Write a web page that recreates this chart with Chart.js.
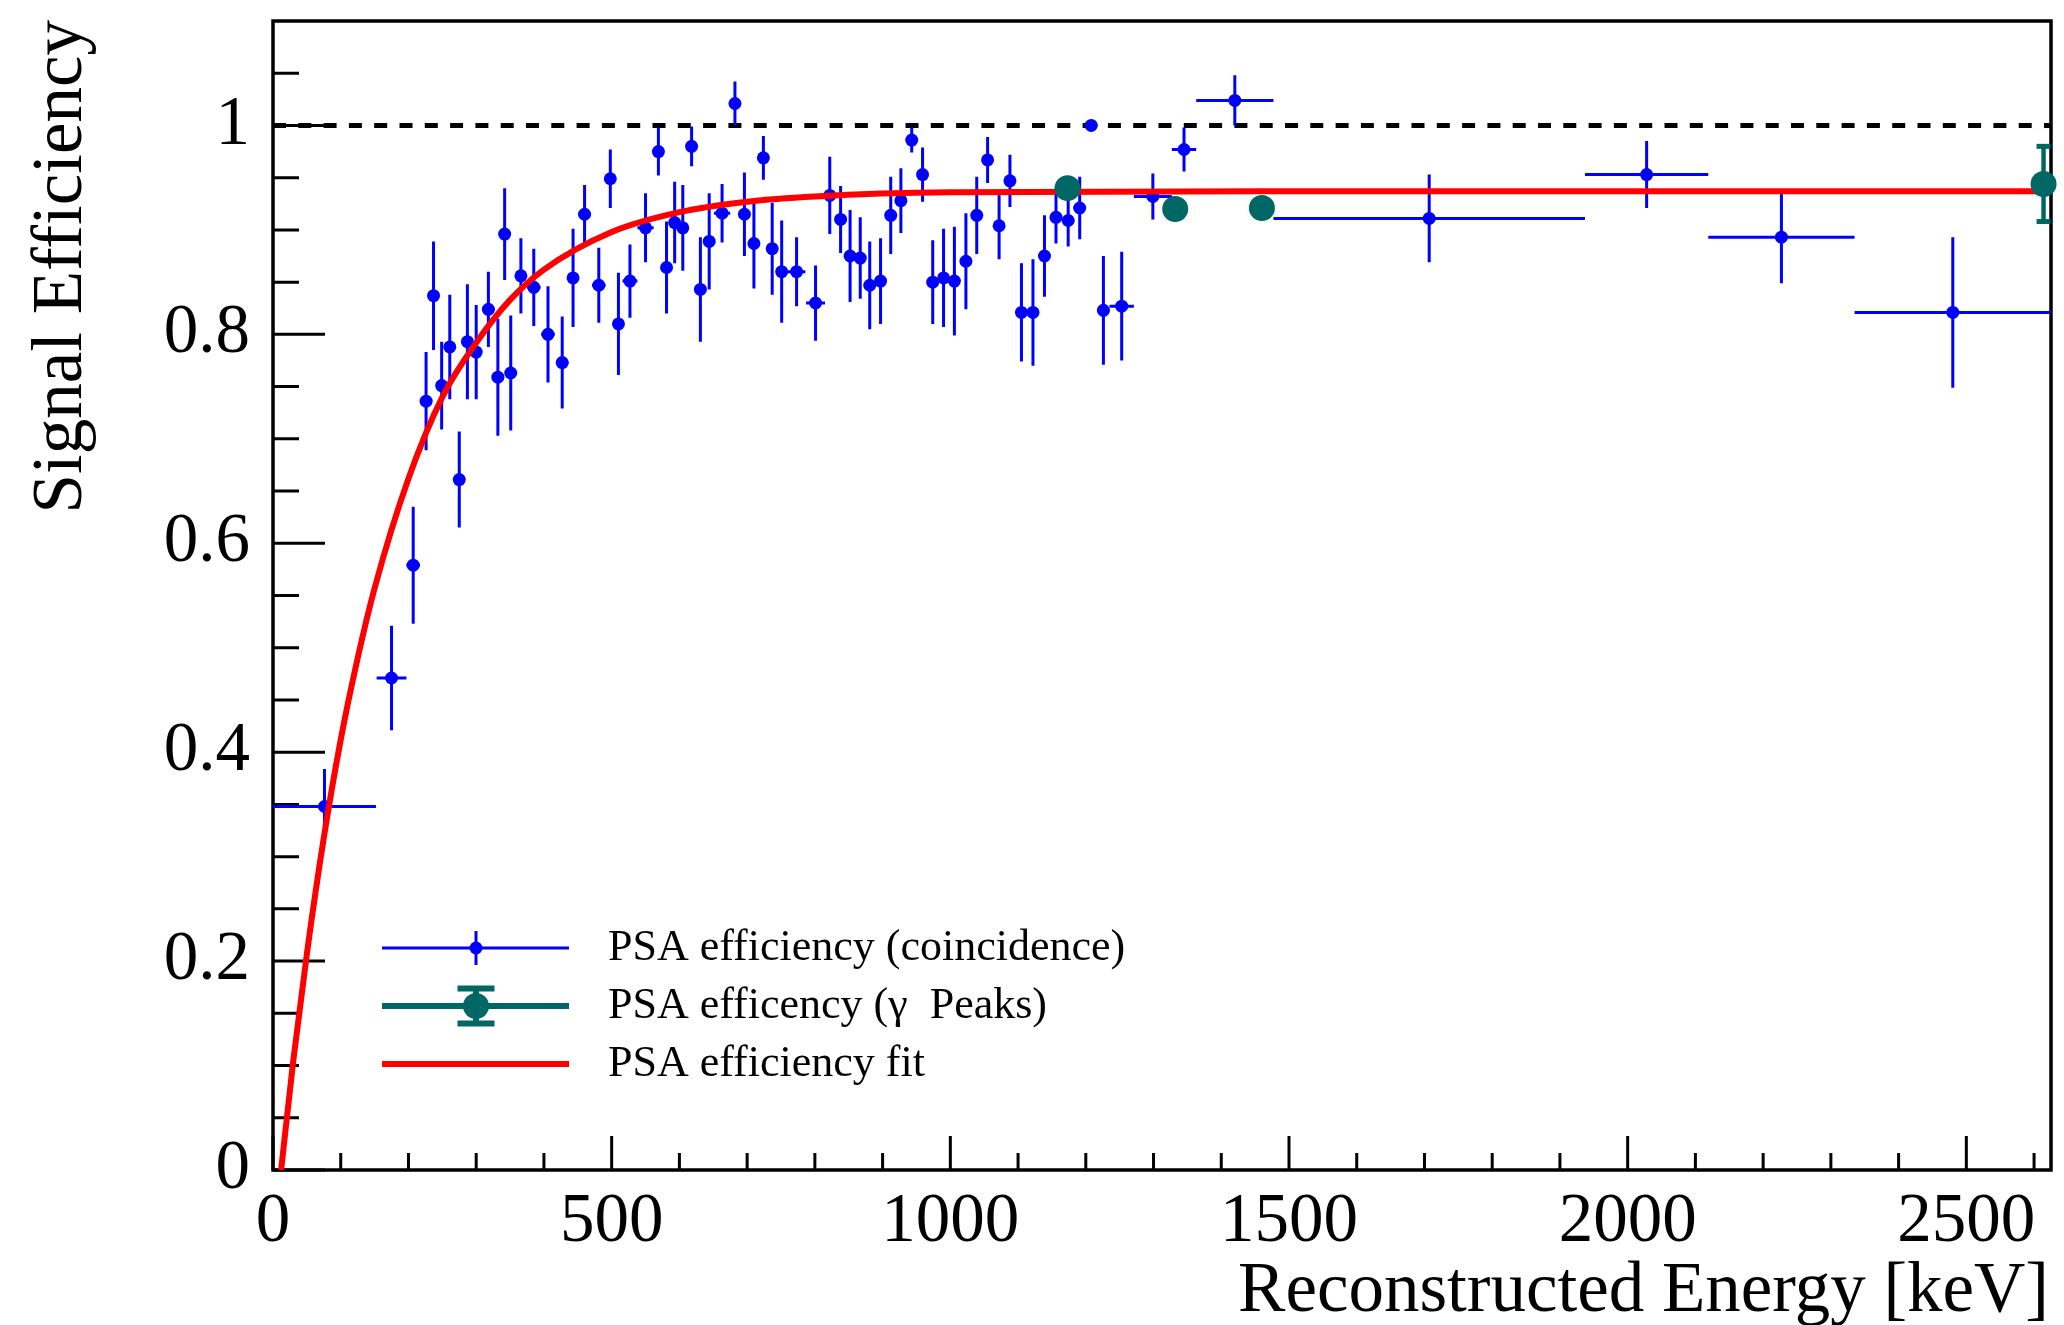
<!DOCTYPE html>
<html>
<head>
<meta charset="utf-8">
<title>PSA signal efficiency</title>
<script src="https://cdn.jsdelivr.net/npm/chart.js@4.4.1/dist/chart.umd.min.js"></script>
<style>
  html, body { margin: 0; padding: 0; background: #fff; }
  #wrap { width: 2064px; height: 1325px; }
</style>
</head>
<body>
<div id="wrap"><canvas id="effChart" width="2064" height="1325"></canvas></div>
<script>
// PSA efficiency from coincidence events: bin centre [keV], efficiency, errors
const coincEnergy = [76, 175, 207, 226, 237, 249, 261, 275, 287, 300,
  318, 332, 342, 351, 366, 385, 406, 427, 443, 460,
  481, 498, 510, 527, 550, 569, 581, 593, 605, 618,
  631, 644, 663, 682, 696, 710, 724, 737, 751, 773,
  801, 822, 838, 852, 867, 881, 897, 912, 927, 943,
  959, 974, 990, 1006, 1023, 1039, 1055, 1072, 1088, 1105,
  1122, 1139, 1156, 1174, 1191, 1208, 1226, 1253, 1299, 1345,
  1420, 1707, 2028, 2227, 2480];
const coincEff = [0.348, 0.471, 0.579, 0.736, 0.837, 0.751, 0.788, 0.661, 0.793, 0.783,
  0.824, 0.759, 0.896, 0.763, 0.856, 0.845, 0.800, 0.773, 0.854, 0.915,
  0.847, 0.949, 0.810, 0.851, 0.902, 0.975, 0.864, 0.907, 0.902, 0.980,
  0.843, 0.889, 0.916, 1.021, 0.915, 0.887, 0.969, 0.882, 0.860, 0.860,
  0.830, 0.933, 0.910, 0.875, 0.873, 0.847, 0.851, 0.914, 0.928, 0.986,
  0.953, 0.850, 0.854, 0.851, 0.870, 0.914, 0.967, 0.904, 0.947, 0.821,
  0.821, 0.875, 0.912, 0.909, 0.921, 1.000, 0.823, 0.827, 0.932, 0.977,
  1.024, 0.911, 0.953, 0.893, 0.821];
const coincEffErr = [0.036, 0.050, 0.056, 0.047, 0.052, 0.042, 0.050, 0.046, 0.055, 0.045,
  0.036, 0.056, 0.044, 0.055, 0.036, 0.037, 0.046, 0.044, 0.047, 0.028,
  0.036, 0.028, 0.049, 0.035, 0.033, 0.023, 0.044, 0.039, 0.041, 0.019,
  0.050, 0.046, 0.028, 0.021, 0.040, 0.043, 0.021, 0.044, 0.049, 0.033,
  0.036, 0.037, 0.032, 0.044, 0.039, 0.042, 0.041, 0.037, 0.031, 0.012,
  0.026, 0.040, 0.047, 0.052, 0.046, 0.037, 0.022, 0.032, 0.025, 0.047,
  0.051, 0.039, 0.025, 0.025, 0.030, 0.000, 0.052, 0.052, 0.022, 0.021,
  0.024, 0.042, 0.032, 0.044, 0.072];
const coincEnergyErr = [76, 22, 10, 9, 6, 6, 6, 7, 6, 7,
  9, 7, 5, 7, 8, 10, 10, 9, 8, 9,
  10, 8, 7, 11, 12, 8, 6, 6, 6, 6,
  6, 8, 12, 7, 7, 7, 7, 7, 8, 13,
  14, 8, 8, 7, 7, 8, 8, 8, 8, 8,
  8, 8, 8, 8, 8, 8, 8, 8, 8, 8,
  8, 8, 9, 9, 9, 9, 9, 18, 28, 18,
  57, 230, 91, 108, 145];

// PSA efficiency at the gamma lines
const peakEnergy = [1173, 1332, 1460, 2614];
const peakEff = [0.940, 0.920, 0.921, 0.944];
const peakEffErr = [0.008, 0.008, 0.008, 0.036];

// fitted efficiency curve
const fitEnergy = [12, 30, 50, 75, 100, 125, 150, 200, 250, 300, 350, 400, 500, 600, 700, 800, 1000, 1500, 2000, 2625];
const fitEff = [0.000, 0.105, 0.207, 0.318, 0.412, 0.490, 0.557, 0.662, 0.740, 0.792, 0.833, 0.862, 0.898, 0.917, 0.927, 0.932, 0.936, 0.937, 0.937, 0.937];

// unity reference line
const unityEnergy = [0, 2625];
const unityEff = [1, 1];

const xTickValues = [0, 500, 1000, 1500, 2000, 2500];
const xTickLabels = ['0', '500', '1000', '1500', '2000', '2500'];
const yTickValues = [0, 0.2, 0.4, 0.6, 0.8, 1];
const yTickLabels = ['0', '0.2', '0.4', '0.6', '0.8', '1'];

const SERIF = '"Liberation Serif", "Times New Roman", serif';
const BLUE = '#0000ff';
const TEAL = 'rgb(0, 103, 100)';
const RED = '#ff0000';

function pts(xs, ys) {
  return xs.map((x, i) => ({ x: x, y: ys[i] }));
}

// ROOT-like frame with ticks pointing inward
const frameTicks = {
  id: 'frameTicks',
  beforeDatasetsDraw(chart) {
    const { ctx, chartArea: a, scales: { x, y } } = chart;
    ctx.save();
    ctx.strokeStyle = '#000';
    ctx.lineWidth = 3;
    ctx.beginPath();
    for (let v = 0; v <= 2600; v += 100) {
      const px = x.getPixelForValue(v);
      const len = v % 500 === 0 ? 34 : 17;
      ctx.moveTo(px, a.bottom);
      ctx.lineTo(px, a.bottom - len);
    }
    for (let k = 0; k <= 21; k++) {
      const py = y.getPixelForValue(k * 0.05);
      const len = k % 4 === 0 ? 52 : 26;
      ctx.moveTo(a.left, py);
      ctx.lineTo(a.left + len, py);
    }
    ctx.stroke();
    ctx.lineWidth = 3.5;
    ctx.strokeRect(a.left, a.top, a.right - a.left, a.bottom - a.top);
    ctx.restore();
  }
};

// error bars drawn under each dataset's markers
const errorBars = {
  id: 'errorBars',
  beforeDatasetDraw(chart, args) {
    const ds = chart.data.datasets[args.index];
    if (!ds.errors) return;
    const { ctx, chartArea: a, scales: { x, y } } = chart;
    const e = ds.errors;
    ctx.save();
    ctx.strokeStyle = ds.backgroundColor;
    ctx.lineWidth = e.width;
    ds.data.forEach((p, i) => {
      const px = x.getPixelForValue(p.x);
      const py = y.getPixelForValue(p.y);
      const ey = e.y[i], ex = e.x ? e.x[i] : 0;
      ctx.beginPath();
      if (ey) {
        ctx.moveTo(px, y.getPixelForValue(p.y + ey));
        ctx.lineTo(px, y.getPixelForValue(p.y - ey));
      }
      if (ex) {
        ctx.moveTo(Math.max(a.left, x.getPixelForValue(p.x - ex)), py);
        ctx.lineTo(Math.min(a.right, x.getPixelForValue(p.x + ex)), py);
      }
      ctx.stroke();
      if (e.cap && ey) {
        const half = (y.getPixelForValue(p.y - ey) - y.getPixelForValue(p.y + ey)) / 2;
        if (half > ds.pointRadius) {
          ctx.fillStyle = ds.backgroundColor;
          ctx.fillRect(px - e.cap / 2, py - half - 2.5, e.cap, 5);
          ctx.fillRect(px - e.cap / 2, py + half - 2.5, e.cap, 5);
        }
      }
    });
    ctx.restore();
  }
};

const legendBox = {
  id: 'legendBox',
  afterDraw(chart) {
    const ctx = chart.ctx;
    const x0 = 382, x1 = 569, xm = 476, tx = 608;
    const rows = [948, 1006, 1064];
    ctx.save();
    // coincidence entry
    ctx.strokeStyle = BLUE;
    ctx.lineWidth = 3;
    ctx.beginPath();
    ctx.moveTo(x0, rows[0]); ctx.lineTo(x1, rows[0]);
    ctx.moveTo(xm, rows[0] - 17); ctx.lineTo(xm, rows[0] + 17);
    ctx.stroke();
    ctx.fillStyle = BLUE;
    ctx.beginPath(); ctx.arc(xm, rows[0], 6.5, 0, Math.PI * 2); ctx.fill();
    // gamma peak entry
    ctx.strokeStyle = TEAL;
    ctx.fillStyle = TEAL;
    ctx.lineWidth = 6;
    ctx.beginPath();
    ctx.moveTo(x0, rows[1]); ctx.lineTo(x1, rows[1]);
    ctx.moveTo(xm, rows[1] - 17); ctx.lineTo(xm, rows[1] + 17);
    ctx.stroke();
    ctx.fillRect(xm - 18.5, rows[1] - 20.5, 37, 6);
    ctx.fillRect(xm - 18.5, rows[1] + 14.5, 37, 6);
    ctx.beginPath(); ctx.arc(xm, rows[1], 13, 0, Math.PI * 2); ctx.fill();
    // fit entry
    ctx.strokeStyle = RED;
    ctx.lineWidth = 6;
    ctx.beginPath();
    ctx.moveTo(x0, rows[2]); ctx.lineTo(x1, rows[2]);
    ctx.stroke();

    ctx.fillStyle = '#000';
    ctx.font = '44px ' + SERIF;
    ctx.textAlign = 'left';
    ctx.textBaseline = 'alphabetic';
    ctx.fillText('PSA efficiency (coincidence)', tx, rows[0] + 12);
    ctx.fillText('PSA efficency (\u03b3  Peaks)', tx, rows[1] + 12);
    ctx.fillText('PSA efficiency fit', tx, rows[2] + 12);
    ctx.restore();
  }
};

// axis titles aligned to the axis ends
const axisTitles = {
  id: 'axisTitles',
  afterDraw(chart) {
    const { ctx, chartArea: a } = chart;
    ctx.save();
    ctx.fillStyle = '#000';
    ctx.font = '71px ' + SERIF;
    ctx.textBaseline = 'alphabetic';
    ctx.textAlign = 'right';
    ctx.fillText('Reconstructed Energy [keV]', a.right - 2, 1311);
    ctx.translate(81, a.top - 1);
    ctx.rotate(-Math.PI / 2);
    ctx.fillText('Signal Efficiency', 0, 0);
    ctx.restore();
  }
};

const tickFont = { family: SERIF, size: 69 };

// keep the plot frame fixed: no extra room for overhanging tick labels
function fixBox(axis, size) {
  if (axis.isHorizontal()) axis.height = size; else axis.width = size;
  axis.paddingTop = 0;
  axis.paddingBottom = 0;
  axis.paddingLeft = 0;
  axis.paddingRight = 0;
}

new Chart(document.getElementById('effChart').getContext('2d'), {
  type: 'scatter',
  data: {
    datasets: [
      {
        label: 'PSA efficency (\u03b3 Peaks)',
        data: pts(peakEnergy, peakEff),
        backgroundColor: TEAL,
        pointRadius: 13,
        pointBorderWidth: 0,
        clip: false,
        order: 0,
        errors: { y: peakEffErr, width: 4.5, cap: 14 }
      },
      {
        label: 'PSA efficiency fit',
        data: pts(fitEnergy, fitEff),
        showLine: true,
        borderColor: RED,
        backgroundColor: RED,
        borderWidth: 6,
        pointRadius: 0,
        cubicInterpolationMode: 'monotone',
        order: 1
      },
      {
        label: 'PSA efficiency (coincidence)',
        data: pts(coincEnergy, coincEff),
        backgroundColor: BLUE,
        pointRadius: 6.5,
        pointBorderWidth: 0,
        order: 2,
        errors: { y: coincEffErr, x: coincEnergyErr, width: 3 }
      },
      {
        label: 'unity',
        data: pts(unityEnergy, unityEff),
        showLine: true,
        borderColor: '#000',
        borderWidth: 5,
        borderDash: [13, 12.3],
        pointRadius: 0,
        order: 3
      }
    ]
  },
  options: {
    responsive: false,
    animation: false,
    layout: { padding: { left: 0, top: 21, right: 11, bottom: 0 } },
    plugins: {
      legend: { display: false },
      tooltip: { enabled: false }
    },
    scales: {
      x: {
        type: 'linear',
        min: 0,
        max: 2625,
        grid: { display: false },
        border: { display: false },
        afterBuildTicks: axis => { axis.ticks = xTickValues.map(v => ({ value: v })); },
        afterFit: axis => fixBox(axis, 155),
        ticks: {
          font: tickFont,
          color: '#000',
          padding: 3,
          maxRotation: 0,
          autoSkip: false,
          callback: v => xTickLabels[xTickValues.indexOf(v)]
        }
      },
      y: {
        type: 'linear',
        min: 0,
        max: 1.1,
        grid: { display: false },
        border: { display: false },
        afterBuildTicks: axis => { axis.ticks = yTickValues.map(v => ({ value: v })); },
        afterFit: axis => fixBox(axis, 273),
        ticks: {
          font: tickFont,
          color: '#000',
          padding: 15,
          autoSkip: false,
          callback: v => yTickLabels[yTickValues.indexOf(v)]
        }
      }
    }
  },
  plugins: [frameTicks, errorBars, legendBox, axisTitles]
});
</script>
</body>
</html>
